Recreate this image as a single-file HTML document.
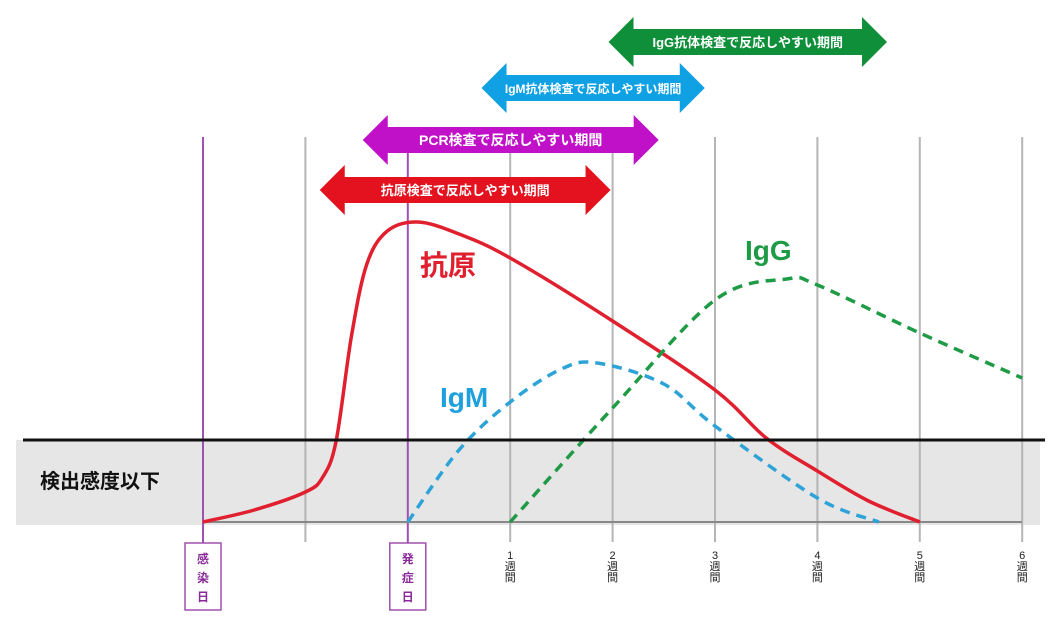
<!DOCTYPE html>
<html><head><meta charset="utf-8">
<style>
html,body{margin:0;padding:0;background:#fff;}
svg{display:block;font-family:"Liberation Sans","Noto Sans CJK JP",sans-serif;}
</style></head>
<body>
<svg id="chart" width="1050" height="619" viewBox="0 0 1050 619" xmlns="http://www.w3.org/2000/svg">
<rect x="16" y="440" width="1024" height="85" fill="#e6e6e6"/>
<g id="grid"></g>
<line x1="203" y1="522" x2="1022" y2="522" stroke="#888" stroke-width="2"/>
<g id="curves"></g>
<line x1="23" y1="440" x2="1045" y2="440" stroke="#111" stroke-width="3"/>
<text x="40" y="488" font-size="20" font-weight="bold" fill="#111">検出感度以下</text>
<text x="420" y="275" font-size="28" font-weight="bold" fill="#e0202e">抗原</text>
<text x="745" y="260" font-size="28" font-weight="bold" fill="#1f9a45">IgG</text>
<text x="440" y="407" font-size="28" font-weight="bold" fill="#1ea0dc">IgM</text>
<g id="arrows"></g>
<g id="xlabels"></g>
</svg>
<script>
// unit: 1 unit = 1/3 week; 0 = infection day
const ticks = [0,1,2,3,4,5,6,7,8];
const weekLabels = ["","","","1","2","3","4","5","6"];
const antigenU = [0,0.5,1,1.17,1.3,1.45,1.6,1.8,2.1,2.5,3,4,5,5.5,6,6.5,7];
const antigenV = [0,4,10,15,27,62,86,97,100,96,88,67,44,28,17,7,0];
const igmU = [2,2.5,3,3.5,3.85,4.5,5,6,6.6];
const igmV = [0,24,40,51,53,46,32,8,0];
const iggU = [3,4,5,5.7,6,7,8];
const iggV = [0,38,74,81,79,63,48];
const arrowLabels = ["抗原検査で反応しやすい期間","PCR検査で反応しやすい期間","IgM抗体検査で反応しやすい期間","IgG抗体検査で反応しやすい期間"];
const arrowStart = [1.14,1.56,2.72,3.96];
const arrowEnd = [3.98,4.45,4.9,6.68];

const X = u => 203 + 102.4*u;
const Y = v => 522 - 3*v;
const NS = "http://www.w3.org/2000/svg";
function mk(tag, attrs, parent){const e=document.createElementNS(NS,tag);for(const k in attrs)e.setAttribute(k,attrs[k]);parent.appendChild(e);return e;}
function smooth(us,vs){
  const p=us.map((u,i)=>[X(u),Y(vs[i])]);
  let d="M"+p[0][0]+","+p[0][1];
  for(let i=0;i<p.length-1;i++){
    const p0=p[Math.max(0,i-1)],p1=p[i],p2=p[i+1],p3=p[Math.min(p.length-1,i+2)];
    const c1=[p1[0]+(p2[0]-p0[0])/6,p1[1]+(p2[1]-p0[1])/6];
    const c2=[p2[0]-(p3[0]-p1[0])/6,p2[1]-(p3[1]-p1[1])/6];
    d+=" C"+c1[0]+","+c1[1]+" "+c2[0]+","+c2[1]+" "+p2[0]+","+p2[1];
  }
  return d;
}
const grid=document.getElementById("grid");
ticks.forEach((t,i)=>{
  const purple=(i===0||i===2);
  const l=mk("line",{x1:X(t),y1:137,x2:X(t),y2:purple?543:542,stroke:purple?"#a050b0":"#b5b5b5","stroke-width":2},grid);
  
  
});
const cv=document.getElementById("curves");
const a=mk("path",{d:smooth(antigenU,antigenV),fill:"none",stroke:"#e0202e","stroke-width":3.5},cv);


const m=mk("path",{d:smooth(igmU,igmV),fill:"none",stroke:"#2ea3d8","stroke-width":3.5,"stroke-dasharray":"10,7"},cv);


const g=mk("path",{d:smooth(iggU,iggV),fill:"none",stroke:"#1f9a45","stroke-width":3.5,"stroke-dasharray":"10,7"},cv);



const arrowY=[190,140,88,42], arrowCol=["#e3121e","#c010c8","#10a0e4","#0f8f3a"], arrowFs=[13,14,12,13];
const ar=document.getElementById("arrows");
arrowLabels.forEach((lab,i)=>{
  const x1=X(arrowStart[i]),x2=X(arrowEnd[i]),cy=arrowY[i],h=25;
  const pts=[[x1,cy],[x1+h,cy-h],[x1+h,cy-13],[x2-h,cy-13],[x2-h,cy-h],[x2,cy],[x2-h,cy+h],[x2-h,cy+13],[x1+h,cy+13],[x1+h,cy+h]];
  const p=mk("polygon",{points:pts.map(q=>q.join(",")).join(" "),fill:arrowCol[i]},ar);
  
  
  const t=mk("text",{x:(x1+x2)/2,y:cy+5,"text-anchor":"middle","font-size":arrowFs[i],"font-weight":"bold",fill:"#fff"},ar);
  t.textContent=lab;
  
  
});
const xl=document.getElementById("xlabels");
[["感染日",0],["発症日",2]].forEach(([lab,u])=>{
  const r=mk("rect",{x:X(u)-18,y:543,width:36,height:67,fill:"#fff",stroke:"#a050b0","stroke-width":1.5},xl);
  
  
  [...lab].forEach((ch,k)=>{
    const t=mk("text",{x:X(u),y:563+k*19,"text-anchor":"middle","font-size":12,"font-weight":"bold",fill:"#8a2a9a"},xl);
    t.textContent=ch;
    
    
  });
});
ticks.forEach((t,i)=>{
  if(!weekLabels[i])return;
  [weekLabels[i],"週","間"].forEach((ch,k)=>{
    const e=mk("text",{x:X(t),y:559+k*11,"text-anchor":"middle","font-size":11,fill:"#222"},xl);
    e.textContent=ch;
    
    
  });
});
</script>
</body></html>
